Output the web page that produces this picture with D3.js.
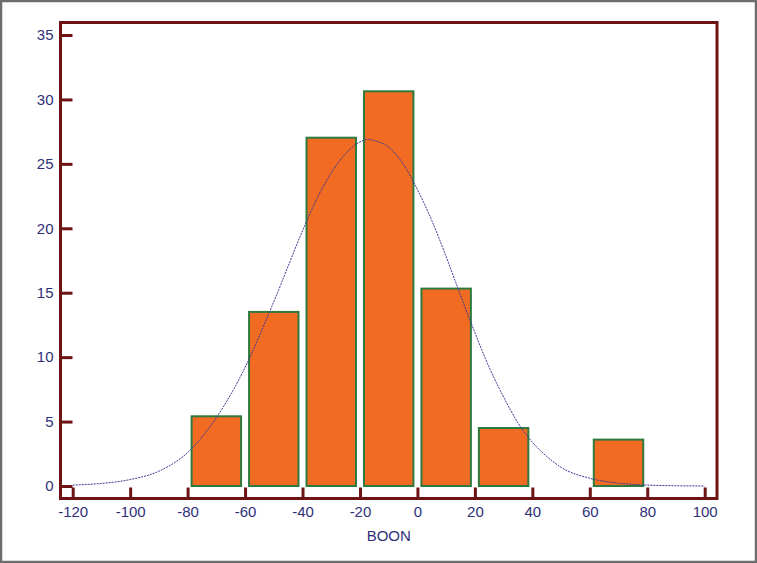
<!DOCTYPE html>
<html>
<head>
<meta charset="utf-8">
<script src="https://cdn.jsdelivr.net/npm/d3@7"></script>
<style>
  html, body { margin: 0; padding: 0; background: #fff; }
  svg { display: block; font-family: "Liberation Sans", Arial, sans-serif; }
</style>
</head>
<body>
<svg id="chart" width="757" height="563"></svg>
<script>
// histogram bins (percent of cases)
const binStart = [-80, -60, -40, -20, 0, 20, 40, 60];
const binEnd   = [-60, -40, -20, 0, 20, 40, 60, 80];
const percent  = [5.41, 13.51, 27.03, 30.63, 15.32, 4.50, 0, 3.60];

// fitted normal curve
const curveX = [-120, -110, -100, -90, -80, -70, -60, -50, -40, -35, -30, -25, -20, -17, -15, -10, -5, 0, 5, 10, 15, 20, 25, 30, 35, 40, 45, 50, 60, 70, 80, 90, 100];
const curveY = [0.07, 0.2, 0.5, 1.15, 2.6, 5.3, 9.2, 14.3, 19.8, 22.3, 24.3, 25.8, 26.7, 26.9, 26.8, 26.3, 25.0, 23.0, 20.6, 17.8, 14.8, 11.9, 9.2, 6.9, 4.9, 3.4, 2.3, 1.45, 0.6, 0.22, 0.07, 0.02, 0.0];

const xTicks = [-120, -100, -80, -60, -40, -20, 0, 20, 40, 60, 80, 100];
const yTicks = [0, 5, 10, 15, 20, 25, 30, 35];
const xTitle = 'BOON';

const svg = d3.select('#chart');
const W = 757, H = 563;
const frame = {left: 60.5, right: 717, top: 22.5, bottom: 498.5};

const x = d3.scaleLinear().domain([-120, 100]).range([72.7, 704.7]);
const y = d3.scaleLinear().domain([0, 35]).range([486, 35]);

const maroon = '#6e1414';
const navy = '#2f2f78';
const font = '"Liberation Sans", Arial, sans-serif';

// outer border
svg.append('rect')
  .attr('x', 1).attr('y', 1).attr('width', W - 2).attr('height', H - 2)
  .attr('fill', '#fff').attr('stroke', '#6d6d6d').attr('stroke-width', 2.5);

// bars
const bins = binStart.map((s, i) => ({x0: s, x1: binEnd[i], v: percent[i]})).filter(d => d.v > 0);
svg.append('g').selectAll('rect').data(bins).join('rect')
  .attr('x', d => x(d.x0) + 4)
  .attr('width', d => x(d.x1) - x(d.x0) - 8)
  .attr('y', d => y(d.v))
  .attr('height', d => y(0) - y(d.v))
  .attr('fill', '#f26b22')
  .attr('stroke', '#2e7a3e')
  .attr('stroke-width', 2);

// normal curve
const line = d3.line().x(d => x(d[0])).y(d => y(d[1])).curve(d3.curveMonotoneX);
svg.append('path')
  .datum(curveX.map((v, i) => [v, curveY[i]]))
  .attr('fill', 'none')
  .attr('stroke', '#3a3a90')
  .attr('stroke-width', 1)
  .attr('stroke-dasharray', '2,1')
  .attr('d', line);

// frame
svg.append('rect')
  .attr('x', frame.left).attr('y', frame.top)
  .attr('width', frame.right - frame.left).attr('height', frame.bottom - frame.top)
  .attr('fill', 'none').attr('stroke', maroon).attr('stroke-width', 3);

// y axis ticks (inward)
const yAxis = svg.append('g').attr('transform', `translate(${frame.left},0)`)
  .call(d3.axisLeft(y).tickValues(yTicks).tickFormat(d => String(d))
    .tickSizeInner(-12).tickSizeOuter(0).tickPadding(7));
yAxis.select('.domain').remove();
yAxis.attr('font-size', 15).attr('font-family', font);
yAxis.selectAll('line').attr('stroke', maroon).attr('stroke-width', 3);
yAxis.selectAll('text').attr('fill', navy);

// x axis ticks (inward)
const xAxis = svg.append('g').attr('transform', `translate(0,${frame.bottom})`)
  .call(d3.axisBottom(x).tickValues(xTicks).tickFormat(d => String(d))
    .tickSizeInner(-11).tickSizeOuter(0).tickPadding(8));
xAxis.select('.domain').remove();
xAxis.attr('font-size', 15).attr('font-family', font);
xAxis.selectAll('line').attr('stroke', maroon).attr('stroke-width', 3);
xAxis.selectAll('text').attr('fill', navy);

// axis title
svg.append('text')
  .attr('x', (frame.left + frame.right) / 2).attr('y', 541)
  .attr('text-anchor', 'middle')
  .attr('fill', navy).attr('font-size', 15).attr('font-family', font)
  .text(xTitle);
</script>
</body>
</html>
